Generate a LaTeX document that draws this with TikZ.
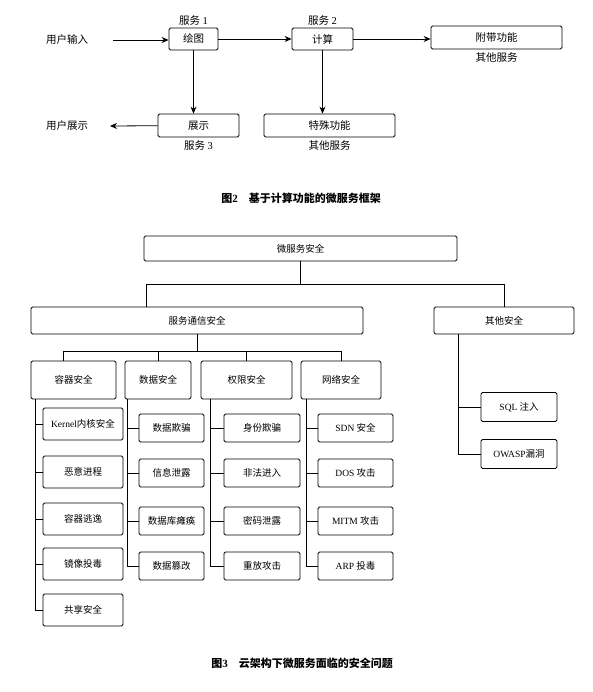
\documentclass[tikz,border=0pt]{standalone}
\usepackage{fontspec}
\setmainfont{Liberation Serif}
\newfontfamily\cjk{Noto Sans CJK SC}
\newcommand{\rmtxt}[1]{{\rmfamily #1}}
\usetikzlibrary{arrows.meta, positioning}

\begin{document}
\begin{tikzpicture} [
        x = 1pt, y = -1pt,
        font = \cjk\fontsize{10.5}{12}\selectfont,
        service/.style = {draw, rounded corners=1.5pt, line width=0.8pt, minimum height=22pt, inner sep=1pt},
        box/.style 2 args = {draw, rounded corners=1.5pt, line width=0.8pt, inner sep=1pt,
                             minimum width=#1pt, minimum height=#2pt, font=\cjk\fontsize{9.5}{11}\selectfont},
        edge/.style = {draw, -{Stealth[length=7pt, width=6pt]}, line width=0.8pt},
        tree/.style = {draw, line width=0.8pt},
        tag/.style = {inner sep=1pt},
        caption/.style = {font=\cjk\bfseries\fontsize{11}{13}\selectfont}
    ]
    \useasboundingbox (0,0) rectangle (592,692);

    % figure 2
    \node (in) at (67,40) {用户输入};
    \coordinate (instart) at (113,40);
    \node[service, minimum width=49pt]   (paint)   at (193.5,39)    {绘图};
    \node[service, minimum width=61pt]   (calc)    at (322.5,39)    {计算};
    \node[service, minimum width=131pt, minimum height=23pt] (extra)   at (496.5,37.5)  {附带功能};
    \node[service, minimum width=81pt, minimum height=23pt]  (show)    at (198.5,125.5) {展示};
    \node[service, minimum width=131pt, minimum height=23pt] (special) at (329.5,125.5) {特殊功能};
    \node (out) at (67,126) {用户展示};
    \coordinate (outend) at (110,126);

    \node[tag, above=1pt of paint]  {服务 \rmtxt{1}};
    \node[tag, above=1pt of calc]   {服务 \rmtxt{2}};
    \node[tag, below=2pt of extra]  {其他服务};
    \node[tag, below=2pt of show]   {服务 \rmtxt{3}};
    \node[tag, below=2pt of special]{其他服务};

    \path[edge] (instart) -- (instart -| paint.west);
    \path[edge] (paint) -- (calc);
    \path[edge] (calc.east) -- (calc.east -| extra.west);
    \path[edge] (paint.south) -- (paint.south |- show.north);
    \path[edge] (calc.south) -- (calc.south |- special.north);
    \path[edge] (show) -- (outend);

    \node[caption] (cap2) at (301,198) {图\rmtxt{\bfseries 2}\quad 基于计算功能的微服务框架};

    % figure 3
    \node[box={313}{25}] (root)  at (300.5,248.5) {微服务安全};
    \node[box={332}{27}] (comm)  at (197,320.5)   {服务通信安全};
    \node[box={140}{27}] (other) at (504,320.5)   {其他安全};
    \node[box={85}{38}]  (cont)  at (73.5,380)    {容器安全};
    \node[box={66}{38}]  (data)  at (158,380)     {数据安全};
    \node[box={91}{38}]  (perm)  at (246.5,380)   {权限安全};
    \node[box={80}{38}]  (net)   at (341,380)     {网络安全};

    \coordinate (rj)  at (300.5,284);
    \coordinate (ca)  at (146,284);
    \coordinate (bus) at (197,351);
    \path[tree] (root) -- (rj);
    \path[tree] (ca |- comm.north) -- (ca) -- (ca -| other.north) -- (other.north);
    \path[tree] (comm.south) -- (comm.south |- bus);
    \path[tree] ([xshift=-10.5pt]cont.north) |- (bus -| net.north) -- (net.north);
    \path[tree] (data.north) -- (data.north |- bus);
    \path[tree] (perm.north) -- (perm.north |- bus);

    \foreach \n/\t/\y in {c1/{\rmtxt{Kernel}内核安全}/424, c2/恶意进程/472, c3/容器逃逸/519, c4/镜像投毒/564, c5/共享安全/610} {
        \node[box={80}{32}] (\n) at (83,\y) {\t};
        \path[tree] ([xshift=5pt]cont.south west) |- (\n.west);
    }
    \foreach \n/\t/\y in {d1/数据欺骗/428, d2/信息泄露/473, d3/数据库瘫痪/521, d4/数据篡改/566} {
        \node[box={65}{28}] (\n) at (171.5,\y) {\t};
        \path[tree] ([xshift=3pt]data.south west) |- (\n.west);
    }
    \foreach \n/\t/\y in {p1/身份欺骗/428, p2/非法进入/473, p3/密码泄露/521, p4/重放攻击/566} {
        \node[box={76}{28}] (\n) at (262,\y) {\t};
        \path[tree] ([xshift=10pt]perm.south west) |- (\n.west);
    }
    \foreach \n/\t/\y in {n1/{\rmtxt{SDN} 安全}/428, n2/{\rmtxt{DOS} 攻击}/473, n3/{\rmtxt{MITM} 攻击}/521, n4/{\rmtxt{ARP} 投毒}/566} {
        \node[box={75}{28}] (\n) at (355.5,\y) {\t};
        \path[tree] ([xshift=6pt]net.south west) |- (\n.west);
    }
    \foreach \n/\t/\y in {o1/{\rmtxt{SQL} 注入}/407, o2/{\rmtxt{OWASP}漏洞}/454} {
        \node[box={76}{29}] (\n) at (519,\y) {\t};
        \path[tree] ([xshift=25pt]other.south west) |- (\n.west);
    }

    \node[caption] (cap3) at (302,663) {图\rmtxt{\bfseries 3}\quad 云架构下微服务面临的安全问题};

\end{tikzpicture}
\end{document}
